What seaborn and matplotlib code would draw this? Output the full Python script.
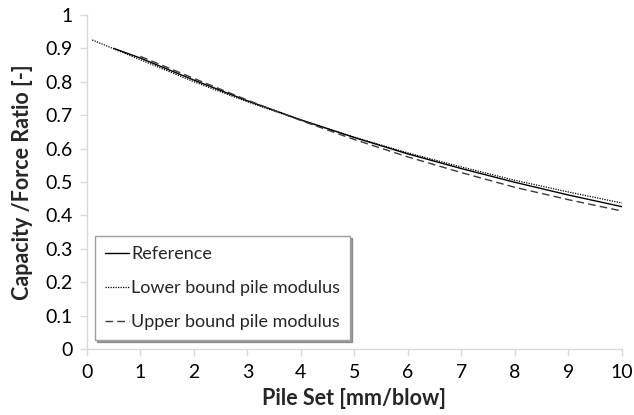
import matplotlib
matplotlib.use("Agg")
import matplotlib.pyplot as plt
import seaborn as sns
import pandas as pd

# Capacity/force ratio against pile set for three pile modulus assumptions
ref_set = [0.5, 1, 2, 3, 4, 5, 6, 7, 8, 9, 10]
ref_ratio = [0.900, 0.871, 0.805, 0.743, 0.686, 0.633, 0.584, 0.540, 0.499, 0.461, 0.426]

lower_set = [0.1, 1, 2, 3, 4, 5, 6, 7, 8, 9, 10]
lower_ratio = [0.925, 0.866, 0.800, 0.740, 0.685, 0.634, 0.587, 0.545, 0.505, 0.470, 0.437]

upper_set = [1, 2, 3, 4, 5, 6, 7, 8, 9, 10]
upper_ratio = [0.876, 0.810, 0.745, 0.684, 0.627, 0.575, 0.528, 0.484, 0.447, 0.413]

series_names = ["Reference", "Lower bound pile modulus", "Upper bound pile modulus"]
x_ticks = list(range(0, 11))
y_ticks = [i / 10 for i in range(0, 11)]

sns.set_theme(style="white")
plt.rcParams["font.family"] = ["Lato", "DejaVu Sans"]

fig = plt.figure(figsize=(6.34, 4.15), dpi=100)
ax = fig.add_axes([0.137, 0.159, 0.844, 0.805])

styles = [
    dict(color="black", linewidth=1.0, linestyle="-"),
    dict(color="black", linewidth=0.9, linestyle=(0, (1, 1))),
    dict(color="#3a3a3a", linewidth=1.0, linestyle=(0, (5.5, 3))),
]
data = [(ref_set, ref_ratio), (lower_set, lower_ratio), (upper_set, upper_ratio)]
for name, (xs, ys), st in zip(series_names, data, styles):
    df = pd.DataFrame({"set": xs, "ratio": ys})
    sns.lineplot(data=df, x="set", y="ratio", ax=ax, label=name, **st)

ax.set_xlim(0, 10)
ax.set_ylim(0, 1)
ax.set_xticks(x_ticks)
ax.set_yticks(y_ticks)
ax.set_xticklabels([str(v) for v in x_ticks])
ax.set_yticklabels(["0"] + [f"{v:g}" for v in y_ticks[1:]])
ax.tick_params(axis="both", labelsize=14, colors="#d9d9d9", labelcolor="black",
               length=5, width=1, direction="out", bottom=True, left=True)
ax.tick_params(axis="x", pad=6)
ax.tick_params(axis="y", pad=5)

for side in ["top", "right"]:
    ax.spines[side].set_visible(False)
for side in ["left", "bottom"]:
    ax.spines[side].set_color("#d9d9d9")
    ax.spines[side].set_linewidth(1)

ax.set_xlabel("Pile Set [mm/blow]", fontsize=15.5, fontweight="bold", labelpad=5)
ax.set_ylabel("Capacity /Force Ratio [-]", fontsize=15.5, fontweight="bold", labelpad=9)

leg = ax.legend(loc="lower left", bbox_to_anchor=(0.015, 0.027), fontsize=13,
                frameon=True, fancybox=False,
                shadow={"ox": 1.5, "oy": -1.5, "color": "#606060", "alpha": 0.6},
                handlelength=1.35, handletextpad=0.1, labelspacing=1.0,
                borderpad=0.55, borderaxespad=0.0)
leg.get_frame().set_edgecolor("#a0a0a0")
leg.get_frame().set_linewidth(1)

fig.savefig("out.png", dpi=100)
